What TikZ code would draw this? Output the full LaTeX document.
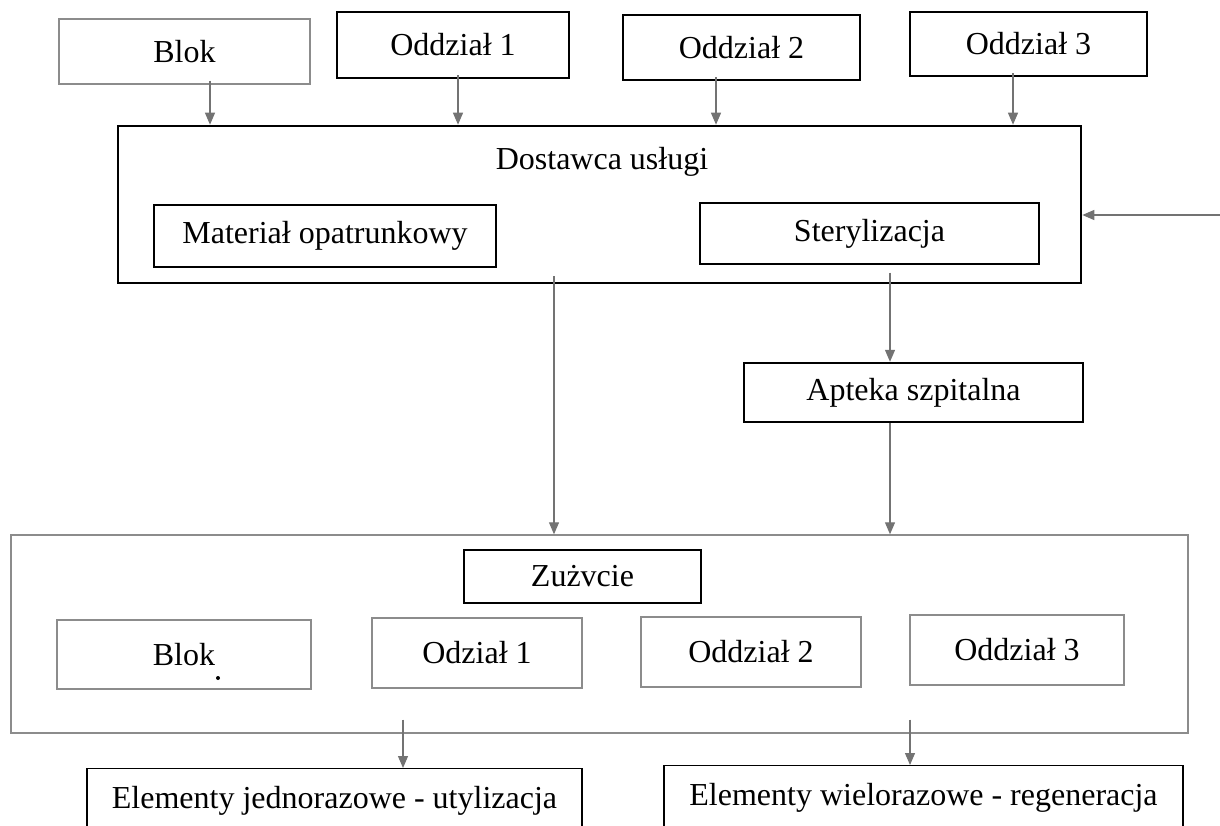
\documentclass[tikz,border=0pt]{standalone}
\usepackage{xcolor}
\usepackage{fontspec}
\setmainfont{Liberation Serif}
\usepackage{tikz}
\usetikzlibrary{positioning, arrows.meta, calc}
\tikzset{
	box/.style={draw=black, line width=1pt, inner sep=0pt},
	thinbox/.style={draw=black, line width=0.7pt, inner sep=0pt},
	greybox/.style={draw=black!45, line width=0.7pt, inner sep=0pt},
	flow/.style={draw=black!55, line width=0.6pt, -{Triangle[width=5pt,length=6pt]}}
}

\begin{document}
\begin{tikzpicture}[x=0.5pt, y=-0.5pt, font=\fontsize{16}{19}\selectfont]
		\useasboundingbox (0,0) rectangle (1220,825);

		% units on top
		\node[greybox, minimum width=125.5pt, minimum height=32.5pt] (blokA) at (184.5,51.5) {Blok};
		\node[box, minimum width=116pt, minimum height=33pt] (oddzA1) at (453,45) {Oddział 1};
		\node[box, minimum width=118.5pt, minimum height=32.5pt] (oddzA2) at (741.5,47.5) {Oddział 2};
		\node[box, minimum width=118.5pt, minimum height=32pt] (oddzA3) at (1028.5,44) {Oddział 3};

		% service provider
		\node[box, line width=1.3pt, minimum width=481.5pt, minimum height=78.5pt] (dost) at (599.5,204.5) {};
		\node (dostT) at (602,162) {Dostawca usługi};
		\node[thinbox, minimum width=171pt, minimum height=31pt] (mat) at (325,236) {Materiał opatrunkowy};
		\node[thinbox, minimum width=169.5pt, minimum height=30.5pt] (ster) at (869.5,233.5) {Sterylizacja};

		% hospital pharmacy
		\node[box, line width=1.2pt, minimum width=169.5pt, minimum height=29.5pt] (apt) at (913.5,392.5) {Apteka szpitalna};

		% consumption
		\node[greybox, minimum width=588.5pt, minimum height=99pt] (uzyc) at (599.5,634) {};
		\node[box, line width=1.4pt, minimum width=118.5pt, minimum height=26.5pt] (uzycT) at (582.5,576.5) {Zużvcie};
		\node[greybox, minimum width=127pt, minimum height=34.5pt] (blokB) at (184,654.5) {Blok};
		\node[greybox, minimum width=105pt, minimum height=35pt] (oddzB1) at (477,653) {Odział 1};
		\node[greybox, minimum width=110pt, minimum height=35pt] (oddzB2) at (751,652) {Oddział 2};
		\node[greybox, minimum width=107pt, minimum height=35pt] (oddzB3) at (1017,650) {Oddział 3};
		\fill (218,678) circle (1pt);

		% disposal
		\node[thinbox, anchor=north, minimum width=247.5pt, minimum height=32pt] (elemJ) at (334.5,768) {Elementy jednorazowe - utylizacja};
		\node[thinbox, anchor=north, minimum width=259.5pt, minimum height=32pt] (elemW) at (923.5,765) {Elementy wielorazowe - regeneracja};

		% flows into the provider
		\coordinate (pA) at ([xshift=12.75pt]blokA.south);
		\coordinate (p1) at ([xshift=2.5pt]oddzA1.south);
		\coordinate (p2) at ([xshift=-12.75pt]oddzA2.south);
		\coordinate (p3) at ([xshift=-7.75pt]oddzA3.south);
		\draw[flow] ($(pA)+(0,2pt)$) -- (pA |- dost.north);
		\draw[flow] ($(p1)+(0,2pt)$) -- (p1 |- dost.north);
		\draw[flow] ($(p2)+(0,2pt)$) -- (p2 |- dost.north);
		\draw[flow] ($(p3)+(0,2pt)$) -- (p3 |- dost.north);
		\coordinate (zew) at (1220,215);
		\draw[flow] (zew) -- (zew -| dost.east);

		% flows out of the provider
		\coordinate (pD) at ([xshift=-22.75pt]dost.south);
		\draw[flow] ($(pD)+(0,4pt)$) -- (pD |- uzyc.north);
		\coordinate (pS) at ([xshift=10.25pt]ster.south);
		\draw[flow] ($(pS)+(0,-4pt)$) -- (pS |- apt.north);
		\coordinate (pP) at ([xshift=-11.75pt]apt.south);
		\draw[flow] (pP) -- (pP |- uzyc.north);

		% flows to disposal
		\coordinate (pJ) at ([xshift=34.25pt]elemJ.north);
		\coordinate (pW) at ([xshift=-6.75pt]elemW.north);
		\draw[flow] ($(pJ |- uzyc.south)+(0,7pt)$) -- (pJ);
		\draw[flow] ($(pW |- uzyc.south)+(0,7pt)$) -- (pW);

	\end{tikzpicture}
\end{document}
